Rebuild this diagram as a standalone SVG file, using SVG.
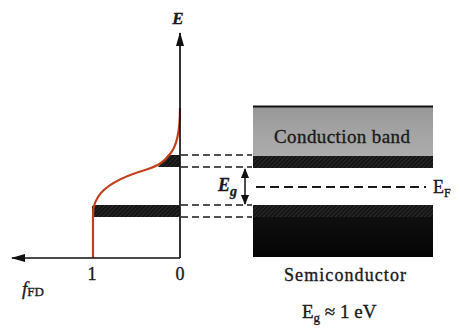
<svg xmlns="http://www.w3.org/2000/svg" width="460" height="330" viewBox="0 0 460 330">
<defs>
<pattern id="hatch" width="3" height="3" patternUnits="userSpaceOnUse" patternTransform="rotate(45)">
<rect width="3" height="3" fill="#141414"/>
<line x1="0" y1="0" x2="0" y2="3" stroke="#484848" stroke-width="0.9"/>
</pattern>
<linearGradient id="cbGrad" x1="0" y1="0" x2="0" y2="1">
<stop offset="0" stop-color="#979797"/>
<stop offset="0.5" stop-color="#a3a3a3"/>
<stop offset="1" stop-color="#acacac"/>
</linearGradient>
<linearGradient id="vbGrad" x1="0" y1="0" x2="0" y2="1">
<stop offset="0" stop-color="#121212"/>
<stop offset="1" stop-color="#050505"/>
</linearGradient>
<marker id="arrowBig" viewBox="0 0 14 8" refX="13" refY="4" markerWidth="14" markerHeight="8" markerUnits="userSpaceOnUse" orient="auto">
<path d="M0,0 L14,4 L0,8 Z" fill="#111"/>
</marker>
<marker id="arrowSmall" viewBox="0 0 10 8" refX="9" refY="4" markerWidth="10" markerHeight="8" markerUnits="userSpaceOnUse" orient="auto-start-reverse">
<path d="M0,0 L10,4 L0,8 Z" fill="#111"/>
</marker>
</defs>
<style>
.axis{stroke:#111;stroke-width:1.7;fill:none}
.dash{stroke:#1a1a1a;stroke-width:1.6;stroke-dasharray:7 4;fill:none}
.serif{font-family:"Liberation Serif","DejaVu Serif",serif;fill:#1a1a1a;stroke:#1a1a1a;stroke-width:0.35}
.curve{stroke:#c4401c;stroke-width:2.2;fill:none}
</style>
<rect width="460" height="330" fill="#ffffff"/>

<g id="fd-plot">
<path d="M168,155 L180,155 L180,167 L158,167 Z" fill="url(#hatch)"/>
<rect x="92" y="205" width="88" height="12" rx="2" fill="url(#hatch)"/>
<path class="curve" d="M180,108 C180,128 178,145 170,154 C164,162 158,166 145,170 C125,176 106,184 98,197 C93,205 93,210 93,217 L93,258"/>
</g>

<g id="axes">
<line class="axis" x1="180" y1="258" x2="180" y2="33" marker-end="url(#arrowBig)"/>
<line class="axis" x1="180" y1="258" x2="12" y2="258" marker-end="url(#arrowBig)"/>
<text class="serif" x="178" y="24" font-size="17" font-weight="bold" font-style="italic" text-anchor="middle">E</text>
<text class="serif" x="92" y="280" font-size="18" text-anchor="middle">1</text>
<text class="serif" x="180" y="280" font-size="18" text-anchor="middle">0</text>
<text class="serif" x="22" y="295" font-size="19" font-style="italic">f<tspan font-size="13" font-style="normal" dy="1">FD</tspan></text>
</g>

<g id="conduction-band">
<rect x="253" y="106" width="180" height="50" fill="url(#cbGrad)"/>
<line x1="253" y1="106.5" x2="433" y2="106.5" stroke="#111" stroke-width="2"/>
<rect x="253" y="156" width="180" height="12" fill="url(#hatch)"/>
<text class="serif" x="342" y="143" font-size="19" text-anchor="middle" textLength="136">Conduction band</text>
</g>

<g id="valence-band">
<rect x="253" y="205" width="180" height="52" fill="url(#vbGrad)"/>
<rect x="253" y="205" width="180" height="12" fill="url(#hatch)"/>
</g>

<g id="connectors">
<line class="dash" x1="181" y1="155" x2="252" y2="155"/>
<line class="dash" x1="181" y1="167" x2="252" y2="167"/>
<line class="dash" x1="181" y1="205" x2="252" y2="205"/>
<line class="dash" x1="181" y1="217" x2="252" y2="217"/>
<line x1="256" y1="187" x2="426" y2="187" stroke="#1a1a1a" stroke-width="1.8" stroke-dasharray="9 5"/>
<line x1="245" y1="169" x2="245" y2="204" stroke="#111" stroke-width="1.5" marker-start="url(#arrowSmall)" marker-end="url(#arrowSmall)"/>
</g>

<g id="labels">
<text class="serif" x="218" y="191" font-size="18" font-weight="bold" font-style="italic">E<tspan font-size="14" dy="5">g</tspan></text>
<text class="serif" x="433" y="193" font-size="18">E<tspan font-size="12" dy="4">F</tspan></text>
<text class="serif" x="345" y="281" font-size="18" text-anchor="middle" textLength="122">Semiconductor</text>
<text class="serif" x="302" y="318" font-size="19">E<tspan font-size="13" dy="4">g</tspan><tspan dy="-4"> ≈ 1 eV</tspan></text>
</g>
</svg>
